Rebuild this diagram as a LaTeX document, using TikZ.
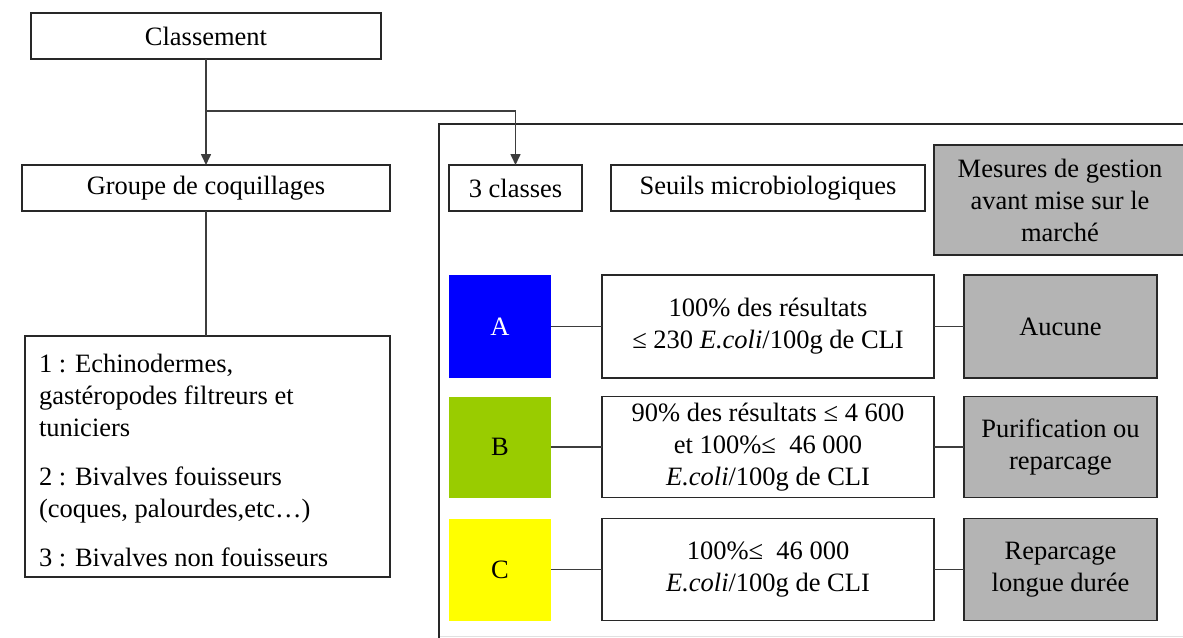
\documentclass[tikz,border=0pt]{standalone}
\usepackage{fontspec}
\setmainfont{Liberation Serif}
\usetikzlibrary{arrows.meta}
\definecolor{boxgray}{RGB}{180,180,180}
\definecolor{lineC}{RGB}{40,40,40}
\definecolor{aBlue}{RGB}{0,0,255}
\definecolor{bGreen}{RGB}{153,204,0}
\definecolor{cYellow}{RGB}{255,255,0}
\definecolor{faint}{RGB}{225,225,225}
\begin{document}
\begin{tikzpicture}[x=1pt,y=-1pt,
  every node/.style={font=\fontsize{26.5}{32}\selectfont, inner sep=0pt, outer sep=0pt},
  wbox/.style={draw=lineC, line width=1.4pt, fill=white, align=center},
  gbox/.style={draw=lineC, line width=1.8pt, fill=boxgray, align=center},
  cbox/.style={draw=none, align=center},
  conn/.style={draw=lineC!90, line width=1.6pt},
  arr/.style={conn, -{Triangle[length=11pt,width=10pt]}},
]
\useasboundingbox (0,0) rectangle (1183,637);
\clip (0,0) rectangle (1183,637);

% left column
\node[wbox, minimum width=350pt, minimum height=46pt] (cl) at (206,36) {Classement};
\node[wbox, minimum width=368pt, minimum height=46pt] (grp) at (206,188) {Groupe de coquillages};
\node[wbox, minimum width=365pt, minimum height=241pt] (list) at (207.5,456.5) {};
\node[anchor=north west, align=left] (listtxt) at (39,354) {1 : Echinodermes,\\ gastéropodes filtreurs et\\ tuniciers\\[17pt] 2 : Bivalves fouisseurs\\ (coques, palourdes,etc…)\\[17pt] 3 : Bivalves non fouisseurs};

% frame
\coordinate (fbl) at (439,645);
\coordinate (ftl) at (439,124);
\coordinate (ftr) at (1195,124);
\coordinate (fb1) at (439,636);
\coordinate (fb2) at (1195,636);
\draw[faint, line width=1pt] (fb1) -- (fb2);
\draw[lineC, line width=1.4pt] (fbl) -- (ftl) -- (ftr);

% header row
\node[wbox, minimum width=133pt, minimum height=46pt] (cls) at (515.5,188) {3 classes};
\node[wbox, minimum width=314pt, minimum height=46pt] (seu) at (768,188) {Seuils microbiologiques};
\node[gbox, minimum width=256pt, minimum height=110pt] (mes) at (1062,200) {};
\node[align=center] (mestxt) at (1060,200) {Mesures de gestion\\ avant mise sur le\\ marché};

% row A
\node[cbox, fill=aBlue, text=white, minimum width=102pt, minimum height=103pt] (A) at (500,326.5) {A};
\node[wbox, minimum width=332pt, minimum height=103pt] (At) at (768,326.5) {100\% des résultats\\ ≤ 230 \textit{E.coli}/100g de CLI};
\node[gbox, minimum width=193pt, minimum height=103pt] (Ag) at (1060.5,326.5) {Aucune};

% row B
\node[cbox, fill=bGreen, minimum width=102pt, minimum height=101pt] (B) at (500,447) {B};
\node[wbox, minimum width=332pt, minimum height=101pt] (Bt) at (768,447) {90\% des résultats ≤ 4 600\\ et 100\%≤~ 46 000\\ \textit{E.coli}/100g de CLI};
\node[gbox, minimum width=193pt, minimum height=101pt] (Bg) at (1060.5,447) {Purification ou\\ reparcage};

% row C
\node[cbox, fill=cYellow, minimum width=102pt, minimum height=102pt] (C) at (500,569.5) {C};
\node[wbox, minimum width=332pt, minimum height=102pt] (Ct) at (768,569.5) {100\%≤~ 46 000\\ \textit{E.coli}/100g de CLI};
\node[gbox, minimum width=193pt, minimum height=102pt] (Cg) at (1060.5,569.5) {Reparcage\\ longue durée};

% connectors
\coordinate (j) at (cl.south |- 0,111);
\draw[arr] (cl.south) -- (grp.north);
\draw[arr] (j) -| (cls.north);
\draw[conn] (grp.south) -- (grp.south |- list.north);
\draw[conn] (A.east) -- (At.west);
\draw[conn] (At.east) -- (Ag.west);
\draw[conn] (B.east) -- (Bt.west);
\draw[conn] (Bt.east) -- (Bg.west);
\draw[conn] (C.east) -- (Ct.west);
\draw[conn] (Ct.east) -- (Cg.west);
\end{tikzpicture}
\end{document}
